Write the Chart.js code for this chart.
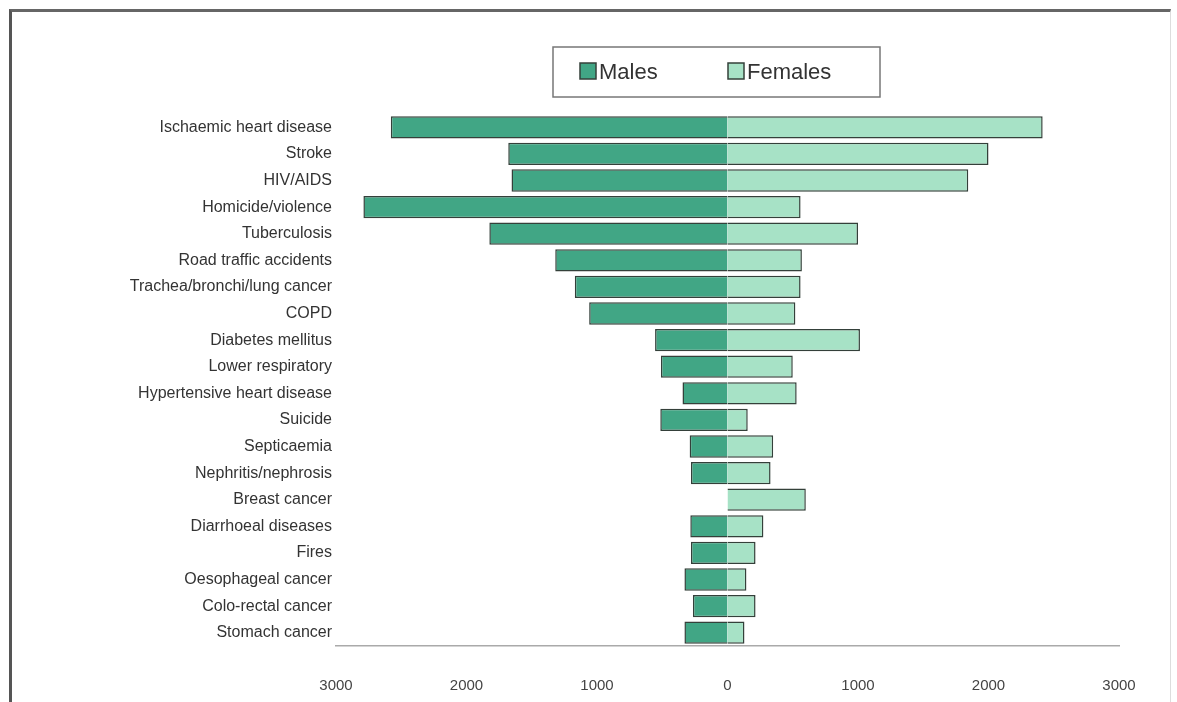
<!DOCTYPE html>
<html>
<head>
<meta charset="utf-8">
<script src="https://cdn.jsdelivr.net/npm/chart.js@4/dist/chart.umd.min.js"></script>
<style>
  html, body { margin: 0; padding: 0; background: #fff; }
  #frame {
    position: absolute; left: 9px; top: 9px; width: 1158px; height: 720px;
    border-left: 3px solid #555; border-top: 3px solid #666; border-right: 1px solid #ddd;
  }
  #wrap { position: absolute; left: 0; top: 0; width: 1177px; height: 702px; }
</style>
</head>
<body>
<div id="frame"></div>
<div id="wrap"><canvas id="chart"></canvas></div>
<script>
// causes of death, top to bottom
const causes = [
  'Ischaemic heart disease', 'Stroke', 'HIV/AIDS', 'Homicide/violence', 'Tuberculosis',
  'Road traffic accidents', 'Trachea/bronchi/lung cancer', 'COPD', 'Diabetes mellitus',
  'Lower respiratory', 'Hypertensive heart disease', 'Suicide', 'Septicaemia',
  'Nephritis/nephrosis', 'Breast cancer', 'Diarrhoeal diseases', 'Fires',
  'Oesophageal cancer', 'Colo-rectal cancer', 'Stomach cancer'
];

// deaths
const males = [2580, 1680, 1655, 2790, 1825, 1320, 1170, 1060, 555, 510, 345, 515, 290, 280, 0, 285, 280, 330, 265, 330];
const females = [2415, 2000, 1845, 560, 1000, 570, 560, 520, 1015, 500, 530, 155, 350, 330, 600, 275, 215, 145, 215, 130];

const xTicks = [-3000, -2000, -1000, 0, 1000, 2000, 3000];

const maleColor = '#41a685';
const femaleColor = '#a7e2c6';
const edge = '#34403a';

// males go left of zero
const malesLeft = males.map(v => -v);

// legend drawn in a box, like the original
const boxLegend = {
  id: 'boxLegend',
  afterDraw(chart) {
    const ctx = chart.ctx;
    ctx.save();
    ctx.strokeStyle = '#777';
    ctx.lineWidth = 1.5;
    ctx.strokeRect(553, 47, 327, 50);
    ctx.font = '22px "Liberation Sans", Arial, sans-serif';
    ctx.textBaseline = 'middle';
    let x = 580;
    chart.data.datasets.forEach((ds, i) => {
      ctx.fillStyle = ds.backgroundColor;
      ctx.fillRect(x, 63, 16, 16);
      ctx.strokeStyle = edge;
      ctx.lineWidth = 1.5;
      ctx.strokeRect(x, 63, 16, 16);
      ctx.fillStyle = '#333';
      ctx.fillText(ds.label, x + 19, 73);
      x += 148;
    });
    ctx.restore();
  }
};

const chart = new Chart(document.getElementById('chart'), {
  type: 'bar',
  data: {
    labels: causes,
    datasets: [
      { label: 'Males', data: malesLeft, backgroundColor: maleColor, borderColor: edge, borderWidth: 1.5 },
      { label: 'Females', data: females, backgroundColor: femaleColor, borderColor: edge, borderWidth: 1.5 }
    ]
  },
  options: {
    indexAxis: 'y',
    responsive: false,
    animation: false,
    maintainAspectRatio: false,
    layout: { padding: { top: 114, right: 58, left: 0, bottom: 0 } },
    datasets: { bar: { barPercentage: 0.84, categoryPercentage: 1 } },
    plugins: {
      legend: { display: false },
      tooltip: { enabled: false }
    },
    scales: {
      x: {
        stacked: true,
        min: -3000,
        max: 3000,
        afterBuildTicks: (scale) => { scale.ticks = xTicks.map(v => ({ value: v })); },
        afterFit: (scale) => { scale.height = 56; },
        grid: { display: false, drawTicks: false },
        border: { display: true, color: '#aaa', width: 1.5 },
        ticks: {
          padding: 31,
          color: '#444',
          font: { family: '"Liberation Sans", Arial, sans-serif', size: 15 },
          callback: (v) => Math.abs(v)
        }
      },
      y: {
        stacked: true,
        afterFit: (scale) => { scale.width = 336; },
        grid: { display: false, drawTicks: false },
        border: { display: false },
        ticks: {
          padding: 4,
          color: '#333',
          font: { family: '"Liberation Sans", Arial, sans-serif', size: 16 }
        }
      }
    }
  },
  plugins: [boxLegend]
});

// fix canvas size to the window
chart.resize(1177, 702);
</script>
</body>
</html>
